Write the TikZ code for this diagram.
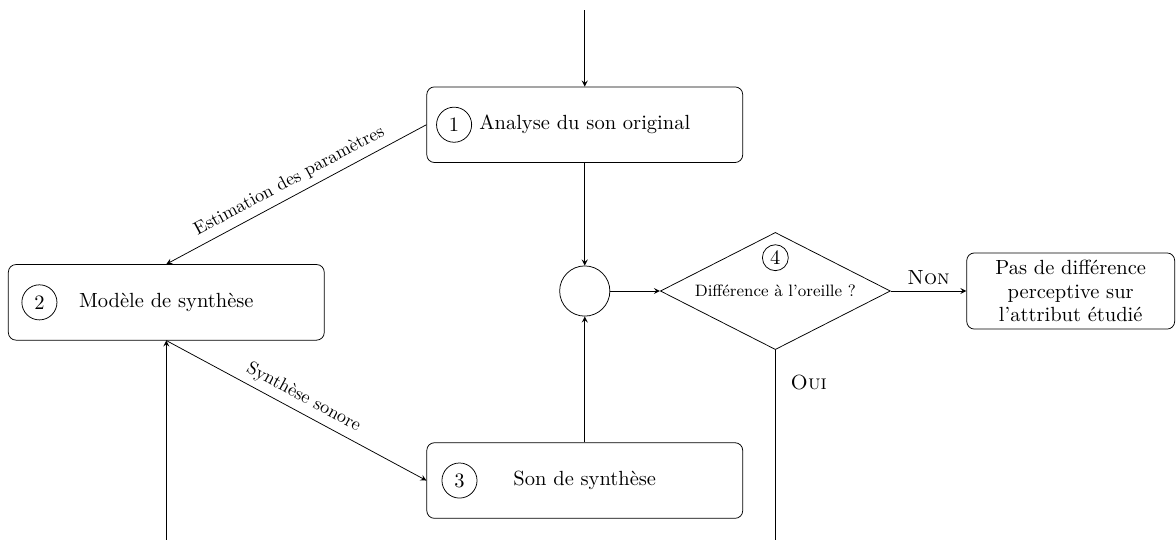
\documentclass[tikz,border=0pt]{standalone}
\usepackage{fontspec}
\usepackage{tikz}
\usetikzlibrary{shapes,positioning}
\tikzset{etape/.style={rectangle,rounded corners,draw,minimum width=5.85cm,minimum height=1.4cm}}
\tikzset{num/.style={circle,draw,minimum size=0.65cm,inner sep=0pt}}
\tikzset{test/.style={diamond,draw,aspect=2,inner sep=0pt,minimum width=4.26cm,minimum height=2.17cm,font=\fontsize{8.7}{10}\selectfont}}
\tikzset{lbl/.style={font=\fontsize{9.6}{11}\selectfont}}

\begin{document}
\begin{tikzpicture}[>=stealth,font=\fontsize{10.8}{12.5}\selectfont]
    \useasboundingbox (0,0) rectangle (21.78,10);

    \node[etape] (a) at (10.83,7.69) {Analyse du son original};
    \node[etape] (m) at (3.08,4.40) {Modèle de synthèse};
    \node[etape] (s) at (10.83,1.10) {Son de synthèse};
    \node[circle,draw,minimum size=0.93cm] (c) at (10.83,4.61) {};
    \node[test] (d) at (14.36,4.61) {Différence à l'oreille ?};
    \node[rectangle,rounded corners,draw,minimum width=3.85cm,minimum height=1.41cm,align=center] (r) at (19.83,4.61) {Pas de différence\\perceptive sur\\l'attribut étudié};

    \node[num,right=0.18cm of a.west] (n1) {1};
    \node[num,right=0.25cm of m.west] (n2) {2};
    \node[num,right=0.28cm of s.west] (n3) {3};
    \node[num,minimum size=0.48cm,above=0.37cm of d.center] (n4) {4};

    \coordinate (haut) at (10.83,9.81);
    \coordinate (bas) at (3.08,0);
    \coordinate (fin) at (14.36,0);

    \draw [->] (haut) to [] (a);
    \draw [->] (a) to [] (c);
    \draw [->] (s) to [] (c);
    \draw [->] (c) to [] (d);
    \draw [->] (d) to [] node[above]{\textsc{Non}} (r);
    \draw (d) to [] node[pos=0.17,right=0.16cm]{\textsc{Oui}} (fin);
    \draw [<-] (m.north) to [] node[lbl,sloped,above]{Estimation des paramètres} (a.west);
    \draw [->] (m.south) to [] node[lbl,sloped,above]{Synthèse sonore} (s.west);
    \draw [->] (bas) to [] (m);
\end{tikzpicture}
\end{document}
